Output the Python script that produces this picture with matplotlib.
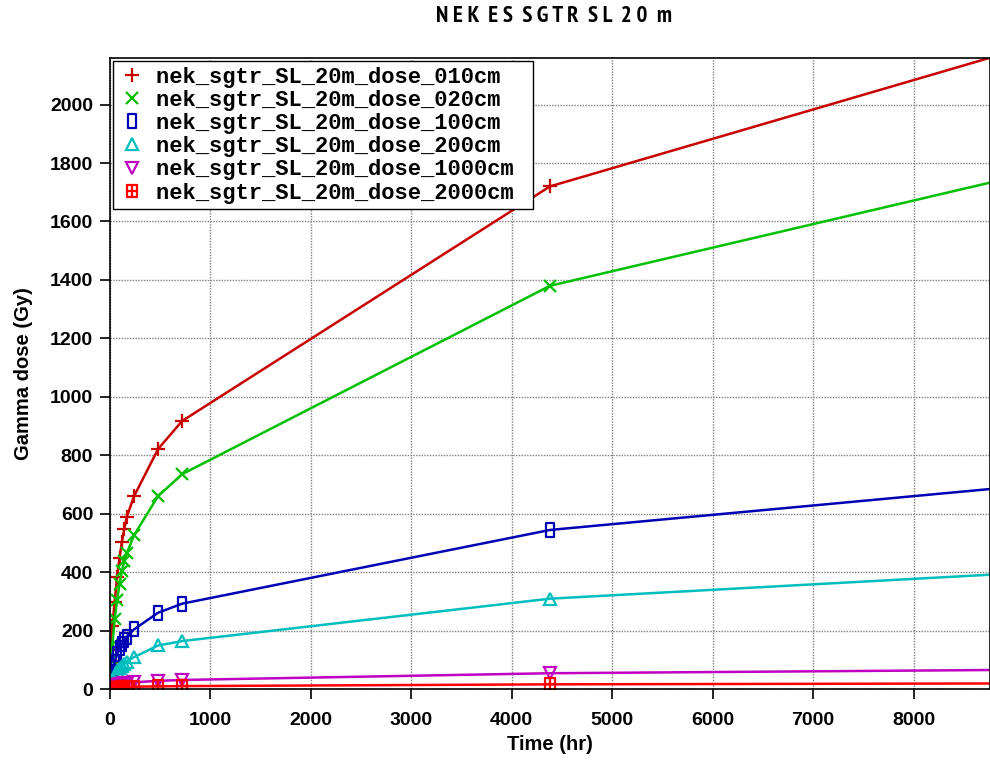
import matplotlib
matplotlib.use('Agg')
import matplotlib.pyplot as plt
from matplotlib.path import Path
from matplotlib import font_manager

# time points (hr)
hours = [0, 2, 4, 8, 12, 24, 48, 72, 96, 120, 144, 168, 240, 480, 720, 4380, 8760]

dose_010 = [0, 30, 55, 95, 135, 215, 300, 385, 450, 505, 550, 590, 660, 822, 918, 1720, 2160]
dose_020 = [0, 20, 40, 70, 100, 150, 240, 305, 360, 405, 440, 465, 527, 661, 736, 1380, 1733]
dose_100 = [0, 5, 10, 20, 30, 60, 95, 120, 140, 155, 168, 180, 205, 262, 293, 545, 685]
dose_200 = [0, 3, 6, 12, 18, 32, 50, 62, 72, 80, 88, 95, 110, 150, 165, 310, 392]
dose_1000 = [0, 1, 2, 4, 6, 10, 14, 16, 18, 19, 20, 21, 24, 29, 32, 55, 66]
dose_2000 = [0, 0.5, 1, 2, 3, 4, 5, 6, 6.5, 7, 7.5, 8, 9, 10, 11, 17, 20]

labels = ['nek_sgtr_SL_20m_dose_010cm', 'nek_sgtr_SL_20m_dose_020cm',
          'nek_sgtr_SL_20m_dose_100cm', 'nek_sgtr_SL_20m_dose_200cm',
          'nek_sgtr_SL_20m_dose_1000cm', 'nek_sgtr_SL_20m_dose_2000cm']
series = [dose_010, dose_020, dose_100, dose_200, dose_1000, dose_2000]
colors = ['#c80000', '#00c000', '#0000b4', '#00bebe', '#c000c0', '#ff0000']

# custom markers: tall rectangle, boxed grid
rect = Path([(-0.3, -0.5), (0.3, -0.5), (0.3, 0.5), (-0.3, 0.5), (-0.3, -0.5)],
            [Path.MOVETO, Path.LINETO, Path.LINETO, Path.LINETO, Path.CLOSEPOLY])
grid_box = Path([(-0.4, -0.5), (0.4, -0.5), (0.4, 0.5), (-0.4, 0.5), (-0.4, -0.5),
                 (0, -0.5), (0, 0.5), (-0.4, 0), (0.4, 0)],
                [Path.MOVETO, Path.LINETO, Path.LINETO, Path.LINETO, Path.CLOSEPOLY,
                 Path.MOVETO, Path.LINETO, Path.MOVETO, Path.LINETO])
markers = ['+', 'x', rect, '^', 'v', grid_box]
msizes = [10, 9, 10, 8, 8, 9]

# condensed sans with a bold face for the title
weights = {}
for f in font_manager.fontManager.ttflist:
    w = f.weight if isinstance(f.weight, int) else 400
    if f.style == 'normal':
        weights.setdefault(f.name, set()).add(w)
narrow = 'Liberation Sans'
for cand in ['Liberation Sans Narrow', 'Arial Narrow', 'Archivo Narrow', 'PT Sans Narrow',
             'Roboto Condensed', 'Open Sans Condensed', 'Fira Sans Condensed',
             'IBM Plex Sans Condensed', 'Sofia Sans Condensed', 'Encode Sans Condensed',
             'Barlow Semi Condensed', 'Asap Condensed']:
    if any(w >= 700 for w in weights.get(cand, ())):
        narrow = cand
        break
sans = 'Liberation Sans'
mono = 'Liberation Mono'

fig = plt.figure(figsize=(9.9, 7.6), dpi=100)
ax = fig.add_axes([0.111, 0.093, 0.889, 0.831])

n = len(hours)
for y, lab, c, m, ms in zip(series, labels, colors, markers, msizes):
    ax.plot(hours, y, color=c, lw=1.8, marker=m, ms=ms, mfc='none', mec=c,
            mew=1.6, label=lab + ' ', markevery=list(range(n - 1)))

ax.set_xlim(0, 8760)
ax.set_ylim(0, 2160)
ax.set_xticks(range(0, 9000, 1000))
ax.set_yticks(range(0, 2200, 200))
ax.grid(True, color='#808080', lw=1.0, ls=(0, (1, 1)))
ax.tick_params(direction='out', length=7, width=1.2, color='black')
ax.tick_params(axis='x', pad=9)
ax.tick_params(axis='y', pad=5)
for lbl in ax.get_xticklabels() + ax.get_yticklabels():
    lbl.set_family(sans)
    lbl.set_fontweight('bold')
    lbl.set_fontsize(14)
for s in ax.spines.values():
    s.set_linewidth(1.2)

ax.set_xlabel('Time (hr)', family=sans, fontweight='bold', fontsize=14.5, labelpad=5)
ax.set_ylabel('Gamma dose (Gy)', family=sans, fontweight='bold', fontsize=14.5, labelpad=12)
fig.text(0.56, 0.978, 'N E K  E S  S G T R  S L  2 0  m', ha='center', va='center',
         family=narrow, fontweight='bold', fontsize=16.5)

leg = ax.legend(loc='upper left', bbox_to_anchor=(0.0, 1.0),
                prop={'family': mono, 'weight': 'bold', 'size': 15.9},
                frameon=True, fancybox=False, edgecolor='black', framealpha=1,
                labelspacing=0.1, handlelength=1.2, handletextpad=0.5,
                borderpad=0.25, borderaxespad=0.15)
leg.get_frame().set_linewidth(1.0)
for h in leg.legend_handles:
    h.set_linestyle('none')

fig.savefig('out.png', dpi=100)
